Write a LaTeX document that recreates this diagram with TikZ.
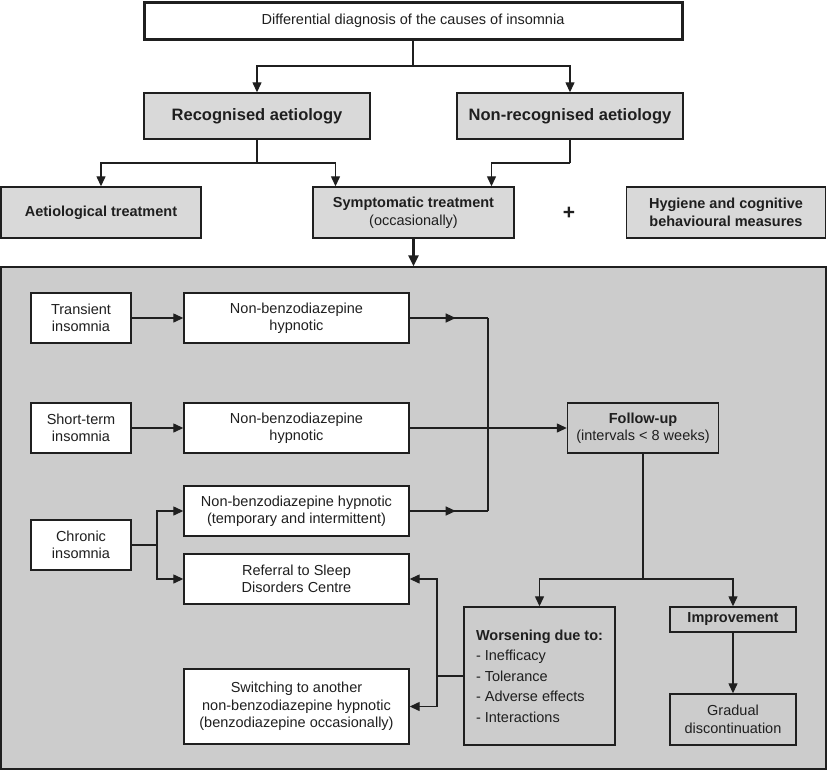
\documentclass[tikz,border=0pt]{standalone}
\usepackage{fontspec}
\setmainfont{Liberation Sans}
\usetikzlibrary{arrows.meta,decorations.markings}
\definecolor{boxgray}{gray}{0.85}
\definecolor{panelgray}{gray}{0.80}
\definecolor{ink}{gray}{0.12}
\tikzset{
  base/.style={draw=ink, line width=1.4pt, inner sep=0pt, align=center, text=ink,
    font=\fontsize{14.5}{17.5}\selectfont},
  graybox/.style={base, fill=boxgray},
  whitebox/.style={base, fill=white},
  panelbox/.style={base, fill=panelgray},
  conn/.style={draw=ink, line width=1.3pt},
  arr/.style={conn, -{Triangle[length=10pt,width=9pt]}},
  midarrow/.style={conn, postaction={decorate}, decoration={markings,
    mark=at position 46pt with {\arrow{Triangle[length=10pt,width=9pt]}}}},
  bigfont/.style={font=\fontsize{16.5}{20}\selectfont\bfseries},
}
\begin{document}
\begin{tikzpicture}[x=1pt,y=-1pt]
\useasboundingbox (0,0) rectangle (827,771);
% container panel
\node[base, fill=panelgray, minimum width=825, minimum height=502] (panel) at (413.5,518) {};
% top
\node[whitebox, line width=3pt, minimum width=538, minimum height=37] (top) at (413,20.5)
  {Differential diagnosis of the causes of insomnia};
\node[graybox, bigfont, minimum width=226, minimum height=46] (rec) at (257,116) {Recognised aetiology};
\node[graybox, bigfont, minimum width=226, minimum height=46] (nonrec) at (570,116) {Non-recognised aetiology};
\node[graybox, minimum width=200, minimum height=51] (aet) at (101,212.5) {\bfseries Aetiological treatment};
\node[graybox, minimum width=201, minimum height=51] (sym) at (413.5,212.5) {\bfseries Symptomatic treatment\\(occasionally)};
\node[font=\fontsize{21}{22}\selectfont\bfseries, text=ink] (plus) at (569,213) {+};
\node[graybox, minimum width=199, minimum height=51] (hyg) at (726,212.5) {\bfseries Hygiene and cognitive\\\bfseries behavioural measures};
% inner boxes
\node[whitebox, minimum width=100, minimum height=50] (trans) at (81,318) {Transient\\insomnia};
\node[whitebox, minimum width=225, minimum height=50] (nb1) at (296.5,318) {Non-benzodiazepine\\hypnotic};
\node[whitebox, minimum width=100, minimum height=50] (short) at (81,428) {Short-term\\insomnia};
\node[whitebox, minimum width=225, minimum height=50] (nb2) at (296.5,428) {Non-benzodiazepine\\hypnotic};
\node[panelbox, minimum width=151, minimum height=50] (fu) at (643,428) {\bfseries Follow-up\\(intervals < 8 weeks)};
\node[whitebox, minimum width=225, minimum height=50] (nb3) at (296.5,511) {Non-benzodiazepine hypnotic\\(temporary and intermittent)};
\node[whitebox, minimum width=100, minimum height=50] (chron) at (81,545) {Chronic\\insomnia};
\node[whitebox, minimum width=225, minimum height=50] (ref) at (296.5,579) {Referral to Sleep\\Disorders Centre};
\node[whitebox, minimum width=225, minimum height=75] (sw) at (296.5,706.5) {Switching to another\\non-benzodiazepine hypnotic\\(benzodiazepine occasionally)};
\node[panelbox, minimum width=151, minimum height=138, align=left,
  font=\fontsize{14.5}{20.5}\selectfont] (wors) at (539.5,676)
  {\bfseries Worsening due to:\\- Inefficacy\\- Tolerance\\- Adverse effects\\- Interactions};
\node[panelbox, minimum width=126, minimum height=25] (imp) at (733,619.5) {\bfseries Improvement};
\node[panelbox, minimum width=126, minimum height=51] (grad) at (733,719.5) {Gradual\\discontinuation};
% junction coordinates
\coordinate (t1) at (413,66);
\coordinate (r1) at (257,163);
\coordinate (n1) at (570,163);
\coordinate (j1) at (488,318);
\coordinate (j3) at (488,511);
\coordinate (c1) at (157,545);
\coordinate (f1) at (643,579);
\coordinate (w1) at (437,676);
% top connectors
\draw[conn] (top.south) -- (t1);
\draw[arr] (t1) -| (rec.north);
\draw[arr] (t1) -| (nonrec.north);
\draw[conn] (rec.south) -- (r1);
\draw[arr] (r1) -| (aet.north);
\draw[arr] (r1) -| ([xshift=-78]sym.north);
\draw[conn] (nonrec.south) -- (n1);
\draw[arr] (n1) -| ([xshift=78]sym.north);
\draw[draw=ink, line width=3pt, -{Triangle[length=11pt,width=10pt]}] (sym.south) -- (panel.north);
% inner connectors
\draw[arr] (trans.east) -- (nb1.west);
\draw[arr] (short.east) -- (nb2.west);
\draw[arr] (nb2.east) -- (fu.west);
\draw[midarrow] (nb1.east) -- (j1);
\draw[midarrow] (nb3.east) -- (j3);
\draw[conn] (j1) -- (j3);
\draw[conn] (chron.east) -- (c1);
\draw[arr] (c1) |- (nb3.west);
\draw[arr] (c1) |- (ref.west);
\draw[conn] (fu.south) -- (f1);
\draw[arr] (f1) -| (wors.north);
\draw[arr] (f1) -| (imp.north);
\draw[arr] (imp.south) -- (grad.north);
\draw[conn] (wors.west) -- (w1);
\draw[arr] (w1) |- (ref.east);
\draw[arr] (w1) |- (sw.east);
\end{tikzpicture}
\end{document}
